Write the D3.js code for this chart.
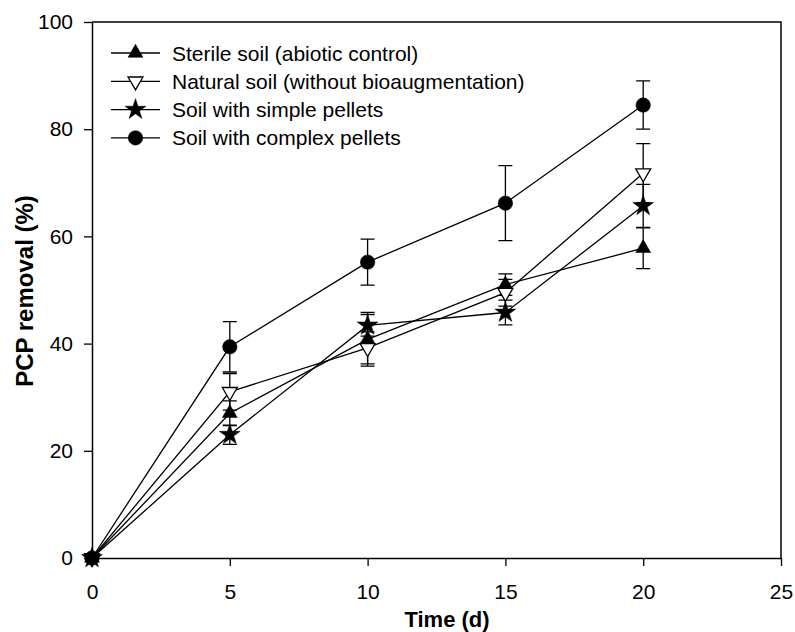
<!DOCTYPE html>
<html>
<head>
<meta charset="utf-8">
<script src="https://cdn.jsdelivr.net/npm/d3@7"></script>
<style>
  body { margin: 0; background: #fff; }
  svg text { font-family: "Liberation Sans", Arial, sans-serif; fill: #000; }
</style>
</head>
<body>
<div id="chart"></div>
<script>
// Data
var days = [0, 5, 10, 15, 20]
var seriesNames = [
  'Sterile soil (abiotic control)',
  'Natural soil (without bioaugmentation)',
  'Soil with simple pellets',
  'Soil with complex pellets'
]
var sterile = [0, 27, 40.8, 51, 57.8]
var sterileErr = [0, 2.3, 5, 2, 3.8]
var natural = [0, 31, 39.2, 49.5, 71.8]
var naturalErr = [0, 3.4, 3, 2.5, 5.5]
var simple = [0, 23, 43.4, 45.8, 65.7]
var simpleErr = [0, 1.8, 2, 2.3, 4]
var complex = [0, 39.4, 55.2, 66.2, 84.5]
var complexErr = [0, 4.7, 4.3, 7, 4.5]
var xTicks = [0, 5, 10, 15, 20, 25]
var yTicks = [0, 20, 40, 60, 80, 100]

var series = [
  { name: seriesNames[0], values: sterile, err: sterileErr, marker: 'triangle' },
  { name: seriesNames[1], values: natural, err: naturalErr, marker: 'nabla' },
  { name: seriesNames[2], values: simple, err: simpleErr, marker: 'star' },
  { name: seriesNames[3], values: complex, err: complexErr, marker: 'circle' }
]

// Dimensions
var width = 795
var height = 632
var margin = { top: 22, right: 14, bottom: 74, left: 92 }
var chartWidth = width - margin.left - margin.right
var chartHeight = height - margin.top - margin.bottom

var xScale = d3.scaleLinear().domain([0, 25]).range([0, chartWidth])
var yScale = d3.scaleLinear().domain([0, 100]).range([chartHeight, 0])

var svg = d3.select('#chart').append('svg')
  .attr('width', width)
  .attr('height', height)

var g = svg.append('g')
  .attr('transform', 'translate(' + margin.left + ',' + margin.top + ')')

// Frame (top and right)
g.append('path')
  .attr('d', 'M0,0H' + chartWidth + 'V' + chartHeight)
  .attr('fill', 'none')
  .attr('stroke', '#000')
  .attr('stroke-width', 1.5)

// Axes
var xAxis = g.append('g')
  .attr('transform', 'translate(0,' + chartHeight + ')')
  .call(d3.axisBottom(xScale).tickValues(xTicks).tickSize(8).tickSizeOuter(0).tickPadding(18))
var yAxis = g.append('g')
  .call(d3.axisLeft(yScale).tickValues(yTicks).tickSize(8).tickSizeOuter(0).tickPadding(11))

;[xAxis, yAxis].forEach(function (ax) {
  ax.attr('font-family', null).attr('font-size', null)
  ax.select('.domain').attr('stroke-width', 1.5)
  ax.selectAll('.tick line').attr('stroke-width', 1.3)
  ax.selectAll('.tick text').style('font-size', '21px')
})

// Axis titles
svg.append('text')
  .attr('x', 447)
  .attr('y', 627)
  .attr('text-anchor', 'middle')
  .style('font-size', '22px')
  .style('font-weight', 'bold')
  .text('Time (d)')

svg.append('text')
  .attr('transform', 'translate(33,291) rotate(-90)')
  .attr('text-anchor', 'middle')
  .style('font-size', '24px')
  .style('font-weight', 'bold')
  .text('PCP removal (%)')

// Marker helper
function symbolFor(kind) {
  if (kind === 'circle') return d3.symbol().type(d3.symbolCircle).size(165)()
  if (kind === 'star') return d3.symbol().type(d3.symbolStar).size(135)()
  return d3.symbol().type(d3.symbolTriangle).size(97)()
}

function drawMarker(sel, kind, x, y) {
  var rot = kind === 'nabla' ? ' rotate(180)' : ''
  sel.append('path')
    .attr('d', symbolFor(kind))
    .attr('transform', 'translate(' + x + ',' + y + ')' + rot)
    .attr('fill', kind === 'nabla' ? '#fff' : '#000')
    .attr('stroke', '#000')
    .attr('stroke-width', kind === 'nabla' ? 1.3 : 0.5)
}

var line = d3.line()
  .x(function (d, i) { return xScale(days[i]) })
  .y(function (d) { return yScale(d) })

var capW = 7

series.forEach(function (s) {
  var sg = g.append('g').attr('class', 'series')

  sg.append('path')
    .datum(s.values)
    .attr('d', line)
    .attr('fill', 'none')
    .attr('stroke', '#000')
    .attr('stroke-width', 1.3)

  // Error bars
  s.values.forEach(function (v, i) {
    var e = s.err[i]
    if (!e) return
    var x = xScale(days[i])
    var y0 = yScale(v - e)
    var y1 = yScale(v + e)
    sg.append('path')
      .attr('d', 'M' + x + ',' + y0 + 'V' + y1 +
        'M' + (x - capW) + ',' + y0 + 'H' + (x + capW) +
        'M' + (x - capW) + ',' + y1 + 'H' + (x + capW))
      .attr('fill', 'none')
      .attr('stroke', '#000')
      .attr('stroke-width', 1.3)
  })
})

series.forEach(function (s) {
  var mg = g.append('g')
  s.values.forEach(function (v, i) {
    drawMarker(mg, s.marker, xScale(days[i]), yScale(v))
  })
})

// Legend
var legend = svg.append('g')
series.forEach(function (s, i) {
  var ly = 53 + i * 28.3
  legend.append('line')
    .attr('x1', 111).attr('x2', 160)
    .attr('y1', ly).attr('y2', ly)
    .attr('stroke', '#000')
    .attr('stroke-width', 1.3)
  drawMarker(legend, s.marker, 135.5, ly)
  legend.append('text')
    .attr('x', 172)
    .attr('y', ly + 7.5)
    .style('font-size', '21px')
    .text(s.name)
})
</script>
</body>
</html>
